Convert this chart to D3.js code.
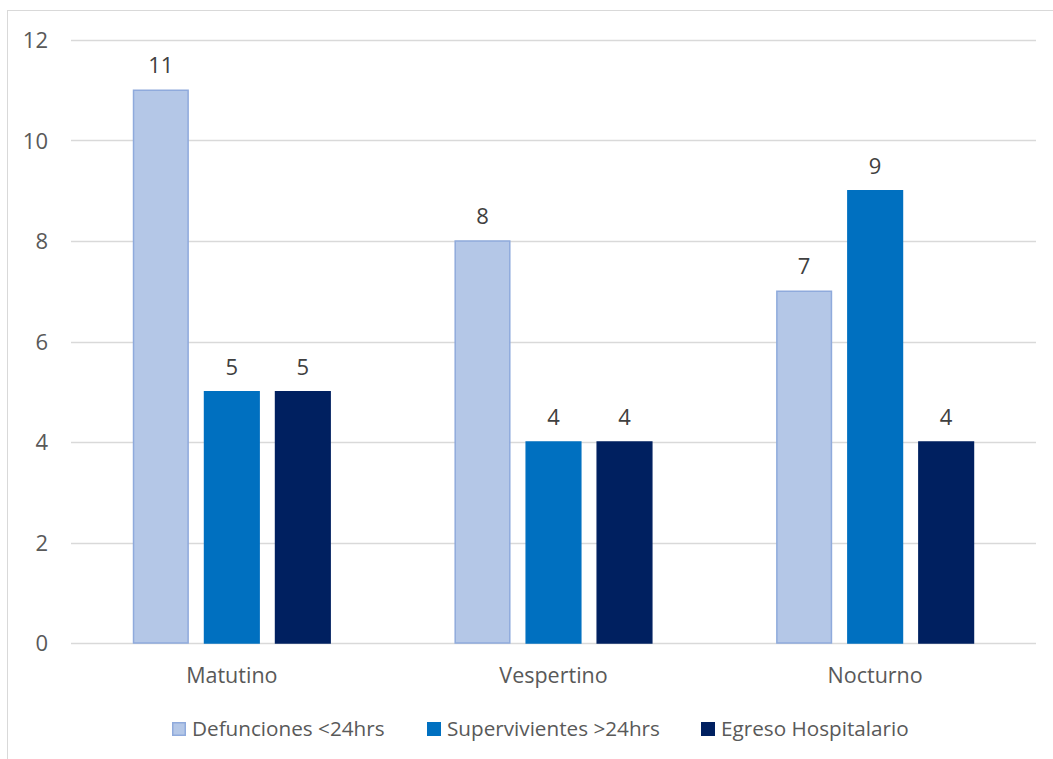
<!DOCTYPE html>
<html>
<head>
<meta charset="utf-8">
<script src="https://cdn.jsdelivr.net/npm/d3@7"></script>
<style>
  html, body { margin: 0; padding: 0; background: #fff; }
  svg { display: block; }
  text { font-family: "Open Sans", "Noto Sans", sans-serif; }
</style>
</head>
<body>
<svg id="chart" width="1053" height="759"></svg>
<script>
// Turnos y desenlaces
const categories = ["Matutino", "Vespertino", "Nocturno"];
const seriesNames = ["Defunciones <24hrs", "Supervivientes >24hrs", "Egreso Hospitalario"];
const defunciones = [11, 8, 7];
const supervivientes = [5, 4, 9];
const egreso = [5, 4, 4];
const yTicks = [0, 2, 4, 6, 8, 10, 12];

const seriesValues = [defunciones, supervivientes, egreso];
const fills = ["#B4C7E7", "#0070C0", "#002060"];
const strokes = ["#8FAADC", "#0070C0", "#002060"];

const svg = d3.select("#chart");

// outer frame
svg.append("rect")
  .attr("x", 7.5).attr("y", 10.5)
  .attr("width", 1060).attr("height", 760)
  .attr("fill", "none").attr("stroke", "#D9D9D9").attr("stroke-width", 1);

const plot = { left: 71, right: 1036, top: 40, bottom: 643 };

const y = d3.scaleLinear().domain([0, 12]).range([plot.bottom, plot.top]);
const x0 = d3.scaleBand().domain(categories).range([plot.left, plot.right]);
const x1 = d3.scaleBand().domain(seriesNames).range([0, x0.bandwidth()])
  .paddingInner(0.21).paddingOuter(0.87);

// horizontal gridlines
svg.append("g").selectAll("line").data(yTicks).join("line")
  .attr("x1", plot.left).attr("x2", plot.right)
  .attr("y1", d => Math.round(y(d)) + 0.5).attr("y2", d => Math.round(y(d)) + 0.5)
  .attr("stroke", "#D9D9D9").attr("stroke-width", 1.3);

// y tick labels
svg.append("g").selectAll("text").data(yTicks).join("text")
  .attr("x", 48).attr("y", d => y(d) + 8)
  .attr("text-anchor", "end")
  .attr("font-size", 22).attr("fill", "#595959")
  .text(d => d);

// bars
const rows = categories.map((c, i) => ({
  cat: c,
  items: seriesNames.map((s, j) => ({ s, j, v: seriesValues[j][i] }))
}));

const groups = svg.append("g").selectAll("g").data(rows).join("g")
  .attr("transform", d => `translate(${x0(d.cat)},0)`);

groups.selectAll("rect").data(d => d.items).join("rect")
  .attr("x", d => x1(d.s) + 0.75)
  .attr("y", d => y(d.v))
  .attr("width", x1.bandwidth() - 1.5)
  .attr("height", d => y(0) - y(d.v))
  .attr("fill", d => fills[d.j])
  .attr("stroke", d => strokes[d.j])
  .attr("stroke-width", 1.5);

// value labels
groups.selectAll("text").data(d => d.items).join("text")
  .attr("x", d => x1(d.s) + x1.bandwidth() / 2)
  .attr("y", d => y(d.v) - 17)
  .attr("text-anchor", "middle")
  .attr("font-size", 22).attr("fill", "#404040")
  .text(d => d.v);

// category labels
svg.append("g").selectAll("text").data(categories).join("text")
  .attr("x", d => x0(d) + x0.bandwidth() / 2)
  .attr("y", 683)
  .attr("text-anchor", "middle")
  .attr("font-size", 21.5).attr("fill", "#595959")
  .text(d => d);

// legend
const legendX = [172, 427, 701];
const legend = svg.append("g").selectAll("g").data(seriesNames).join("g")
  .attr("transform", (d, i) => `translate(${legendX[i]},722)`);
legend.append("rect")
  .attr("x", 0.75).attr("y", 0.75).attr("width", 12.5).attr("height", 12.5)
  .attr("fill", (d, i) => fills[i]).attr("stroke", (d, i) => strokes[i]).attr("stroke-width", 1.5);
legend.append("text")
  .attr("x", 20).attr("y", 14)
  .attr("font-size", 20.7).attr("fill", "#595959")
  .text(d => d);
</script>
</body>
</html>
